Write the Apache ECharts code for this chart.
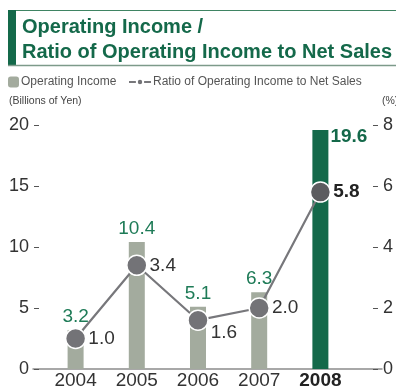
<!DOCTYPE html>
<html>
<head>
<meta charset="utf-8">
<script src="https://cdn.jsdelivr.net/npm/echarts@6/dist/echarts.min.js"></script>
<style>
  html, body { margin: 0; padding: 0; background: #fff; }
  #chart { width: 396px; height: 390px; }
</style>
</head>
<body>
<div id="chart"></div>
<script>
// Fiscal years and the two measures plotted against them
const years = ['2004', '2005', '2006', '2007', '2008'];
const operatingIncome = [3.2, 10.4, 5.1, 6.3, 19.6];   // billions of yen
const incomeRatio = [1.0, 3.4, 1.6, 2.0, 5.8];         // % of net sales

const incomeAxis = { min: 0, max: 20, interval: 5 };
const ratioAxis = { min: 0, max: 8, interval: 2 };

const FONT = 'Liberation Sans';
const GREEN = '#14694a';
const SAGE = '#a3ab9e';
const last = years.length - 1;

const chart = echarts.init(document.getElementById('chart'), null, { renderer: 'canvas' });

const axisTickStyle = { show: true, length: 5, lineStyle: { color: '#555', width: 1 } };

chart.setOption({
  animation: false,
  textStyle: { fontFamily: FONT },
  graphic: [
    { type: 'rect', shape: { x: 8, y: 10, width: 8, height: 56 }, style: { fill: GREEN } },
    { type: 'line', shape: { x1: 16, y1: 10.5, x2: 396, y2: 10.5 }, style: { stroke: '#3f8463', lineWidth: 1 } },
    { type: 'line', shape: { x1: 8, y1: 65.5, x2: 396, y2: 65.5 }, style: { stroke: '#7d9a8a', lineWidth: 1.5 } },
    {
      type: 'text', left: 22, top: 15,
      style: {
        text: 'Operating Income /\nRatio of Operating Income to Net Sales',
        font: 'bold 20px "Liberation Sans"', lineHeight: 25, fill: GREEN
      }
    },
    {
      type: 'text', left: 9, top: 96,
      style: { text: '(Billions of Yen)', font: '10.5px "Liberation Sans"', fill: '#444' }
    },
    {
      type: 'text', left: 382, top: 96,
      style: { text: '(%)', font: '10.5px "Liberation Sans"', fill: '#444' }
    }
  ],
  legend: [
    {
      data: ['Operating Income'],
      left: 8, top: 76, padding: 0,
      itemWidth: 11, itemHeight: 11, itemGap: 0,
      textStyle: { fontSize: 12, color: '#555', fontFamily: FONT, padding: [0, 0, 0, -3] }
    },
    {
      data: ['Ratio of Operating Income to Net Sales'],
      left: 128, top: 76, padding: 0,
      itemWidth: 22, itemHeight: 8,
      textStyle: { fontSize: 12, color: '#555', fontFamily: FONT, padding: [0, 0, 0, -3] }
    }
  ],
  grid: [
    { left: 45, right: 40, top: 125, bottom: 21 },
    { left: 33, right: 14, top: 125, bottom: 21 }
  ],
  xAxis: [
    {
      type: 'category',
      gridIndex: 0,
      data: years.map((y, i) => i === last
        ? { value: y, textStyle: { fontWeight: 'bold', color: '#222' } }
        : y),
      axisLine: { show: false },
      axisTick: { show: false },
      axisLabel: { fontSize: 19, color: '#333', margin: 2, fontFamily: FONT }
    },
    {
      type: 'value',
      gridIndex: 1,
      axisLine: { show: true, lineStyle: { color: '#8c8c8c', width: 1.5 } },
      axisTick: { show: false },
      axisLabel: { show: false },
      splitLine: { show: false }
    }
  ],
  yAxis: [
    {
      type: 'value', gridIndex: 0, position: 'left', offset: 6,
      min: incomeAxis.min, max: incomeAxis.max, interval: incomeAxis.interval,
      axisLine: { show: false },
      axisTick: axisTickStyle,
      axisLabel: { fontSize: 18, color: '#333', margin: 10, fontFamily: FONT },
      splitLine: { show: false }
    },
    {
      type: 'value', gridIndex: 0, position: 'right', offset: 22,
      min: ratioAxis.min, max: ratioAxis.max, interval: ratioAxis.interval,
      axisLine: { show: false },
      axisTick: axisTickStyle,
      axisLabel: { fontSize: 18, color: '#333', margin: 10, fontFamily: FONT },
      splitLine: { show: false }
    },
    { type: 'value', gridIndex: 1, show: false }
  ],
  series: [
    {
      name: 'Operating Income',
      type: 'bar',
      xAxisIndex: 0, yAxisIndex: 0,
      barWidth: 16,
      itemStyle: { color: SAGE },
      label: {
        show: true, position: 'top', distance: 4,
        fontSize: 19, color: '#1e7b57', fontFamily: FONT
      },
      data: operatingIncome.map((v, i) => i === last
        ? {
            value: v,
            itemStyle: { color: GREEN },
            label: { position: ['100%', 0], offset: [2, -3], fontWeight: 'bold', color: GREEN }
          }
        : v)
    },
    {
      name: 'Ratio of Operating Income to Net Sales',
      type: 'line',
      xAxisIndex: 0, yAxisIndex: 1,
      symbol: 'circle',
      symbolSize: 20,
      lineStyle: { color: '#77777b', width: 2.2 },
      itemStyle: { color: '#737377', borderColor: '#fff', borderWidth: 1.5 },
      label: {
        show: true, position: 'right', distance: 2,
        fontSize: 19, color: '#333', fontFamily: FONT,
        formatter: p => p.value.toFixed(1)
      },
      data: incomeRatio.map((v, i) => {
        if (i === last) {
          return {
            value: v,
            itemStyle: { color: '#5c5c5f' },
            label: { fontWeight: 'bold', color: '#222' }
          };
        }
        if (i === 2) {
          return { value: v, label: { offset: [0, 13] } };
        }
        return v;
      })
    }
  ]
});
</script>
</body>
</html>
